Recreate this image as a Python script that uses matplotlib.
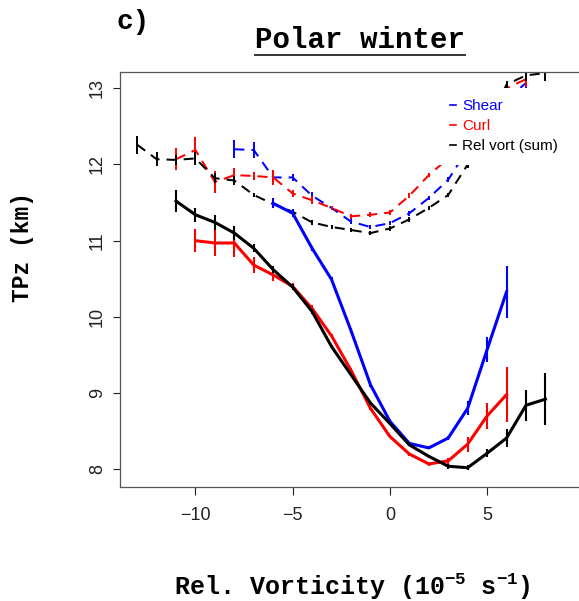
import matplotlib
matplotlib.use("Agg")
import matplotlib.pyplot as plt
from matplotlib.lines import Line2D

# ---- data: tropopause height (km) binned by relative vorticity ----
# lower branch (solid lines)
shear_lo_x = [-6, -5, -4, -3, -2, -1, 0, 1, 2, 3, 4, 5, 6]
shear_lo = [11.49, 11.36, 10.90, 10.49, 9.82, 9.11, 8.63, 8.34, 8.28, 8.41, 8.80, 9.57, 10.33]
shear_lo_err = [0.065, 0.055, 0.03, 0.03, 0.03, 0.03, 0.03, 0.02, 0.02, 0.03, 0.09, 0.16, 0.34]

curl_lo_x = [-10, -9, -8, -7, -6, -5, -4, -3, -2, -1, 0, 1, 2, 3, 4, 5, 6]
curl_lo = [11.00, 10.97, 10.97, 10.68, 10.55, 10.40, 10.11, 9.75, 9.30, 8.80, 8.43, 8.20,
           8.07, 8.11, 8.33, 8.70, 8.98]
curl_lo_err = [0.15, 0.17, 0.18, 0.11, 0.08, 0.04, 0.04, 0.03, 0.03, 0.02, 0.02, 0.02,
               0.03, 0.04, 0.10, 0.17, 0.36]

vort_lo_x = [-11, -10, -9, -8, -7, -6, -5, -4, -3, -2, -1, 0, 1, 2, 3, 4, 5, 6, 7, 8]
vort_lo = [11.52, 11.34, 11.24, 11.10, 10.90, 10.62, 10.39, 10.07, 9.61, 9.24, 8.87, 8.60,
           8.32, 8.17, 8.04, 8.02, 8.21, 8.41, 8.84, 8.92]
vort_lo_err = [0.14, 0.09, 0.10, 0.09, 0.055, 0.05, 0.04, 0.03, 0.02, 0.02, 0.02, 0.02,
               0.02, 0.02, 0.03, 0.03, 0.055, 0.12, 0.20, 0.34]

# upper branch (dashed lines)
shear_up_x = [-8, -7, -6, -5, -4, -3, -2, -1, 0, 1, 2, 3, 4, 5, 6, 7]
shear_up = [12.20, 12.19, 11.83, 11.83, 11.59, 11.43, 11.25, 11.18, 11.23, 11.36, 11.56,
            11.80, 12.20, 12.55, 12.85, 13.07]
shear_up_err = [0.12, 0.10, 0.09, 0.05, 0.05, 0.03, 0.03, 0.03, 0.03, 0.03, 0.03, 0.03,
                0.04, 0.05, 0.05, 0.06]

curl_up_x = [-11, -10, -9, -8, -7, -6, -5, -4, -3, -2, -1, 0, 1, 2, 3, 4, 5, 6, 7]
curl_up = [12.07, 12.19, 11.77, 11.86, 11.85, 11.83, 11.62, 11.53, 11.43, 11.32, 11.34,
           11.37, 11.59, 11.86, 12.08, 12.50, 12.80, 13.00, 13.12]
curl_up_err = [0.14, 0.17, 0.14, 0.10, 0.05, 0.10, 0.05, 0.05, 0.03, 0.03, 0.03, 0.03,
               0.03, 0.03, 0.04, 0.05, 0.06, 0.08, 0.10]

vort_up_x = [-13, -12, -11, -10, -9, -8, -7, -6, -5, -4, -3, -2, -1, 0, 1, 2, 3, 4, 5, 6, 7, 8]
vort_up = [12.26, 12.07, 12.06, 12.08, 11.82, 11.79, 11.60, 11.48, 11.38, 11.24, 11.18,
           11.14, 11.10, 11.16, 11.28, 11.43, 11.60, 12.00, 12.50, 13.05, 13.17, 13.20]
vort_up_err = [0.12, 0.09, 0.07, 0.09, 0.065, 0.065, 0.03, 0.03, 0.03, 0.03, 0.03, 0.03,
               0.03, 0.03, 0.03, 0.03, 0.03, 0.04, 0.05, 0.05, 0.08, 0.10]

series_names = ["Shear", "Curl", "Rel vort (sum)"]
series_colors = ["#0000FF", "#FF0000", "#000000"]

x_ticks = [-10, -5, 0, 5]
y_ticks = [8, 9, 10, 11, 12, 13]

# ---- figure ----
W, H = 579, 601
fig = plt.figure(figsize=(W / 100, H / 100), dpi=100)
ax = fig.add_axes([120 / W, 1 - 487.4 / H, 462 / W, (487.4 - 72) / H])

mono = "Liberation Mono"
sans = "Liberation Sans"
plt.rcParams["mathtext.fontset"] = "custom"
plt.rcParams["mathtext.rm"] = "Liberation Mono:bold"
plt.rcParams["mathtext.default"] = "rm"

dash = (0, (5, 3.5))

lower = [(shear_lo_x, shear_lo, shear_lo_err),
         (curl_lo_x, curl_lo, curl_lo_err),
         (vort_lo_x, vort_lo, vort_lo_err)]
upper = [(shear_up_x, shear_up, shear_up_err),
         (curl_up_x, curl_up, curl_up_err),
         (vort_up_x, vort_up, vort_up_err)]

for (x, y, e), c in zip(upper, series_colors):
    ax.plot(x, y, color=c, lw=1.45, linestyle=dash)
    ax.vlines(x, [a - b for a, b in zip(y, e)], [a + b for a, b in zip(y, e)],
              color=c, lw=1.4)

for (x, y, e), c in zip(lower, series_colors):
    ax.plot(x, y, color=c, lw=2.2, solid_joinstyle="round")
    ax.vlines(x, [a - b for a, b in zip(y, e)], [a + b for a, b in zip(y, e)],
              color=c, lw=1.5)

ax.set_xlim(-13.88, 9.88)
ax.set_ylim(7.762, 13.214)

ax.set_xticks(x_ticks)
ax.set_xticklabels(["\u221210", "\u22125", "0", "5"], fontfamily=sans, fontsize=13)
ax.set_yticks(y_ticks)
ax.set_yticklabels([str(v) for v in y_ticks], fontfamily=sans, fontsize=13,
                   rotation=90, va="center")
ax.tick_params(axis="x", length=6, width=0.8, pad=8, colors="#222222")
ax.tick_params(axis="y", length=5, width=0.8, pad=5, colors="#222222")
for s in ax.spines.values():
    s.set_color("#555555")
    s.set_linewidth(0.9)

# legend: short coloured dashes, coloured labels, white background
handles = [Line2D([0], [0], color=c, lw=1.2) for c in series_colors]
leg = ax.legend(handles, series_names, loc="upper left",
                bbox_to_anchor=(438.5 / W, 1 - 88 / H), bbox_transform=fig.transFigure,
                prop={"family": sans, "size": 11}, handlelength=0.4, handletextpad=0.4,
                labelspacing=0.38, borderpad=0.75, borderaxespad=0, frameon=True,
                fancybox=False, framealpha=1)
leg.get_frame().set_facecolor("white")
leg.get_frame().set_edgecolor("none")
for t, c in zip(leg.get_texts(), series_colors):
    t.set_color(c)

# titles and axis labels
fig.text(116 / W, 1 - 29 / H, "c)", fontfamily=mono, fontweight="bold", fontsize=20,
         ha="left", va="baseline")
fig.text(360 / W, 1 - 48 / H, "Polar winter", fontfamily=mono, fontweight="bold",
         fontsize=21, ha="center", va="baseline")
fig.add_artist(Line2D([255 / W, 465 / W], [1 - 54.5 / H, 1 - 54.5 / H],
                      transform=fig.transFigure, color="#333333", lw=1.4))
fig.text(352 / W, 1 - 587 / H, "Rel. Vorticity (10$^{-5}$ s$^{-1}$)", fontfamily=mono,
         fontweight="bold", fontsize=18, ha="center", va="center")
fig.text(23 / W, 1 - 247 / H, "TPz (km)", fontfamily=mono, fontweight="bold",
         fontsize=16.5, ha="center", va="center", rotation=90)

fig.savefig("out.png", dpi=100)
